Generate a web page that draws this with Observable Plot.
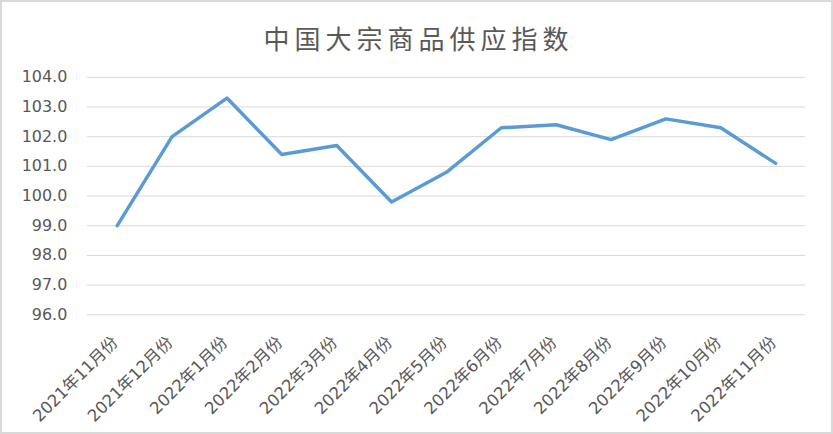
<!DOCTYPE html>
<html>
<head>
<meta charset="utf-8">
<script src="https://cdn.jsdelivr.net/npm/d3@7"></script>
<script src="https://cdn.jsdelivr.net/npm/@observablehq/plot@0.6"></script>
<style>
  html, body { margin: 0; padding: 0; background: #fff; }
  #wrap { position: relative; width: 833px; height: 434px; box-sizing: border-box; border: 2px solid #d9d9d9; overflow: hidden; }
  #title { position: absolute; left: 0; width: 833px; top: 16px; text-align: center; font-family: "Noto Sans CJK SC", sans-serif; font-size: 26px; letter-spacing: 5px; color: #595959; line-height: 40px; }
  #chart { position: absolute; left: -2px; top: -2px; }
</style>
</head>
<body>
<div id="wrap">
  <div id="title">中国大宗商品供应指数</div>
  <div id="chart"></div>
</div>
<script>
const months = ["2021年11月份","2021年12月份","2022年1月份","2022年2月份","2022年3月份","2022年4月份","2022年5月份","2022年6月份","2022年7月份","2022年8月份","2022年9月份","2022年10月份","2022年11月份"];
const values = [99.0, 102.0, 103.3, 101.4, 101.7, 99.8, 100.8, 102.3, 102.4, 101.9, 102.6, 102.3, 101.1];
const yTicks = [96, 97, 98, 99, 100, 101, 102, 103, 104];

const data = months.map((m, i) => ({month: m, value: values[i]}));

const chart = Plot.plot({
  width: 833,
  height: 434,
  marginLeft: 87,
  marginRight: 26,
  marginTop: 77,
  marginBottom: 119,
  style: {fontFamily: "'DejaVu Sans', 'Noto Sans CJK SC', sans-serif", color: "#595959", background: "transparent"},
  x: {type: "point", domain: months, padding: 0.5},
  y: {domain: [96, 104]},
  marks: [
    Plot.ruleY(yTicks, {stroke: "#d9d9d9", strokeWidth: 1}),
    Plot.axisY({ticks: yTicks, tickFormat: d => d.toFixed(1), tickSize: 0, tickPadding: 20, fontSize: 16, label: null, fill: "#595959"}),
    Plot.axisX({tickSize: 0, tickRotate: -45, tickPadding: 20, dy: 5, dx: -2, fontSize: 16.5, label: null, fill: "#595959", fontFamily: "'DejaVu Sans', 'Noto Sans CJK SC', sans-serif"}),
    Plot.line(data, {x: "month", y: "value", stroke: "#5B9BD5", strokeWidth: 3.5, strokeLinejoin: "round", strokeLinecap: "round"})
  ]
});
document.getElementById("chart").appendChild(chart);
</script>
</body>
</html>
